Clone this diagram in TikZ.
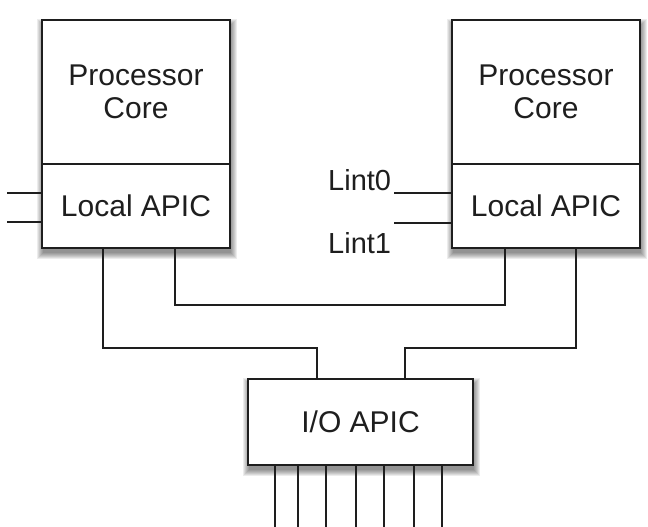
\documentclass[tikz,border=0pt]{standalone}
\usepackage{fontspec}
\setmainfont{Liberation Sans}
\definecolor{ink}{HTML}{1E1E1E}
\tikzset{
  wire/.style={draw=ink, line width=2.2pt},
  outline/.style={inner sep=0pt},
  part/.style={draw=ink, fill=white, line width=2.2pt, inner sep=0pt, align=center,
    text=ink, font=\fontsize{30}{33}\selectfont},
  lbl/.style={inner sep=0pt, text=ink, font=\fontsize{29}{33}\selectfont},
  haze/.style={fill=black, opacity=0.075}
}
\begin{document}
\begin{tikzpicture}[x=1pt, y=-1pt]
  \useasboundingbox (0,0) rectangle (648,527);
  \fill[white] (0,0) rectangle (648,527);

  % outlines of the two processors and the I/O APIC
  \node[outline, minimum width=188pt, minimum height=228pt] (cpuA) at (136,134) {};
  \node[outline, minimum width=188pt, minimum height=228pt] (cpuB) at (546,134) {};
  \node[outline, minimum width=225pt, minimum height=86pt] (iobg) at (360.5,422) {};

  % soft drop shadows below them
  \foreach \b in {cpuA,cpuB,iobg}
    \foreach \k in {0,...,6}
      \fill[haze] ([shift={(-\k+1,-\k+5)}]\b.north west) rectangle ([shift={(\k+1,\k+5)}]\b.south east);

  % processor 1
  \node[part, minimum width=188pt, minimum height=144pt] (coreA) at (136,92) {Processor\\Core};
  \node[part, minimum width=188pt, minimum height=84pt] (lapicA) at (136,206) {Local APIC};

  % processor 2
  \node[part, minimum width=188pt, minimum height=144pt] (coreB) at (546,92) {Processor\\Core};
  \node[part, minimum width=188pt, minimum height=84pt] (lapicB) at (546,206) {Local APIC};

  % I/O APIC
  \node[part, minimum width=225pt, minimum height=86pt] (io) at (360.5,422) {I/O APIC};

  % local interrupt inputs
  \coordinate (inA0) at (7,193);
  \coordinate (inA1) at (7,222);
  \draw[wire] (inA0) -- (inA0 -| lapicA.west);
  \draw[wire] (inA1) -- (inA1 -| lapicA.west);

  \node[lbl, anchor=base west] (lint0) at (328,190) {Lint0};
  \node[lbl, anchor=base west] (lint1) at (328,253) {Lint1};
  \coordinate (inB0) at (394,193);
  \coordinate (inB1) at (394,223);
  \draw[wire] (inB0) -- (inB0 -| lapicB.west);
  \draw[wire] (inB1) -- (inB1 -| lapicB.west);

  % APIC bus between the local APICs
  \draw[wire, line join=miter] (lapicA.south -| 175,0) -- (175,305) -- (505,305) -- (lapicB.south -| 505,0);

  % links to the I/O APIC
  \draw[wire, line join=miter] (lapicA.south -| 103,0) -- (103,348) -- (317,348) -- (io.north -| 317,0);
  \draw[wire, line join=miter] (lapicB.south -| 576,0) -- (576,348) -- (405,348) -- (io.north -| 405,0);

  % interrupt lines into the I/O APIC
  \foreach \px in {275,298,326,356,384,414,442}
    \draw[wire] (io.south -| \px,0) -- (\px,530);
\end{tikzpicture}
\end{document}
